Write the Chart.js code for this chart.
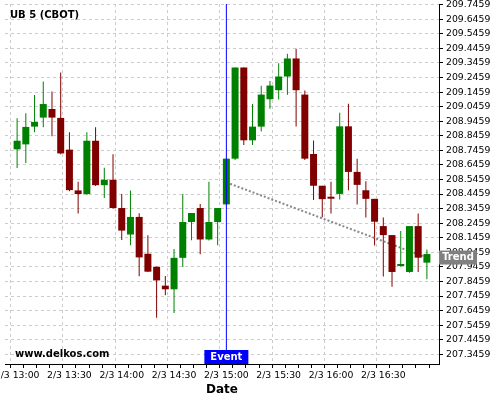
<!DOCTYPE html>
<html lang="en">
<head>
    <meta charset="UTF-8">
    <title>UB 5 (CBOT)</title>
    <script src="https://cdn.jsdelivr.net/npm/chart.js"></script>
    <style>
        html, body {
            margin: 0;
            padding: 0;
            background: #fff;
        }

        .wrap {
            width: 500px;
            height: 400px;
            position: relative;
        }
    </style>
</head>
<body>
    <div class="wrap"><canvas id="chart"></canvas></div>

    <script>
        // 5 minute candles on 2/3, 13:00 to 16:55
        const times = [
            '13:00', '13:05', '13:10', '13:15', '13:20', '13:25', '13:30', '13:35', '13:40', '13:45', '13:50', '13:55',
            '14:00', '14:05', '14:10', '14:15', '14:20', '14:25', '14:30', '14:35', '14:40', '14:45', '14:50', '14:55',
            '15:00', '15:05', '15:10', '15:15', '15:20', '15:25', '15:30', '15:35', '15:40', '15:45', '15:50', '15:55',
            '16:00', '16:05', '16:10', '16:15', '16:20', '16:25', '16:30', '16:35', '16:40', '16:45', '16:50', '16:55'
        ];
        const open = [
            208.753, 208.787, 208.909, 208.971, 209.030, 208.969, 208.751, 208.471, 208.446, 208.812, 208.507, 208.544,
            208.350, 208.168, 208.289, 208.036, 207.947, 207.817, 207.792, 208.008, 208.254, 208.350, 208.134, 208.254,
            208.375, 208.689, 209.315, 208.815, 208.909, 209.097, 209.159, 209.253, 209.377, 209.129, 208.721, 208.503,
            208.415, 208.447, 208.911, 208.598, 208.472, 208.413, 208.226, 208.164, 207.952, 207.911, 208.226, 207.975
        ];
        const high = [
            208.966, 209.000, 209.126, 209.219, 209.150, 209.280, 208.871, 208.530, 208.871, 208.905, 208.626, 208.719,
            208.446, 208.471, 208.314, 208.163, 207.947, 207.883, 208.068, 208.446, 208.316, 208.377, 208.530, 208.350,
            208.689, 209.315, 209.315, 209.065, 209.189, 209.223, 209.345, 209.409, 209.444, 209.157, 208.813, 208.503,
            208.530, 209.004, 209.066, 208.689, 208.534, 208.413, 208.285, 208.164, 208.192, 208.226, 208.313, 208.066
        ];
        const low = [
            208.625, 208.659, 208.871, 208.905, 208.843, 208.719, 208.466, 208.312, 208.439, 208.501, 208.419, 208.345,
            208.131, 208.095, 207.881, 207.910, 207.596, 207.751, 207.630, 207.945, 208.129, 208.033, 208.127, 208.095,
            208.372, 208.680, 208.783, 208.783, 208.875, 209.031, 209.095, 209.127, 208.909, 208.680, 208.405, 208.287,
            208.313, 208.409, 208.472, 208.374, 208.285, 208.093, 207.879, 207.810, 207.946, 207.905, 207.911, 207.861
        ];
        const close = [
            208.812, 208.907, 208.941, 209.064, 208.971, 208.725, 208.473, 208.446, 208.812, 208.507, 208.544, 208.350,
            208.195, 208.289, 208.011, 207.913, 207.853, 207.792, 208.008, 208.254, 208.316, 208.134, 208.254, 208.350,
            208.689, 209.315, 208.815, 208.909, 209.129, 209.191, 209.253, 209.377, 209.159, 208.689, 208.503, 208.411,
            208.414, 208.911, 208.598, 208.509, 208.413, 208.256, 208.164, 207.911, 207.953, 208.226, 208.009, 208.034
        ];

        // axis ticks
        const xLabels = ['2/3 13:00', '2/3 13:30', '2/3 14:00', '2/3 14:30', '2/3 15:00', '2/3 15:30', '2/3 16:00', '2/3 16:30'];
        const yTicks = [
            207.3459, 207.4459, 207.5459, 207.6459, 207.7459, 207.8459, 207.9459, 208.0459, 208.1459,
            208.2459, 208.3459, 208.4459, 208.5459, 208.6459, 208.7459, 208.8459, 208.9459, 209.0459,
            209.1459, 209.2459, 209.3459, 209.4459, 209.5459, 209.6459, 209.7459
        ];

        // event at 15:00 and trend line
        const eventTime = '15:00';
        const trendTimes = ['15:00', '16:55'];
        const trendValues = [208.526, 208.010];

        const yMin = 207.279;
        const yMax = 209.751;
        const xMin = -0.611;
        const xMax = 47.611;

        const eventIdx = times.indexOf(eventTime);
        const colors = open.map((o, i) => close[i] >= o ? '#008000' : '#800000');
        const wicks = times.map((t, i) => ({ x: i, y: [low[i], high[i]] }));
        const bodies = times.map((t, i) => ({ x: i, y: [open[i], close[i]] }));
        const trend = trendTimes.map((t, i) => ({ x: times.indexOf(t), y: trendValues[i] }));

        Chart.defaults.font.family = '"DejaVu Sans"';
        Chart.defaults.color = '#000';

        // title, watermark and the two labels
        const overlay = {
            id: 'overlay',
            afterDraw(chart) {
                const { ctx, chartArea, scales } = chart;
                ctx.save();
                ctx.font = 'bold 10px "DejaVu Sans"';
                ctx.textBaseline = 'middle';
                ctx.textAlign = 'left';
                ctx.fillStyle = '#000';
                ctx.fillText('UB 5 (CBOT)', 10, 15);
                ctx.fillText('www.delkos.com', 15, chartArea.bottom - 10);

                const ex = scales.x.getPixelForValue(eventIdx);
                ctx.fillStyle = '#0000ff';
                ctx.fillRect(ex - 22, chartArea.bottom - 14, 44, 14);
                ctx.fillStyle = '#fff';
                ctx.textAlign = 'center';
                ctx.fillText('Event', ex, chartArea.bottom - 7);

                const ty = scales.y.getPixelForValue(trendValues[1]);
                ctx.fillStyle = '#808080';
                ctx.fillRect(chartArea.right, ty - 7, 38, 14);
                ctx.fillStyle = '#fff';
                ctx.fillText('Trend', chartArea.right + 19, ty);
                ctx.restore();
            }
        };

        new Chart(document.getElementById('chart'), {
            type: 'bar',
            data: {
                datasets: [
                    {
                        type: 'line',
                        data: [{ x: eventIdx, y: yMin }, { x: eventIdx, y: yMax }],
                        borderColor: '#0000ff',
                        borderWidth: 1,
                        pointRadius: 0,
                        order: 0
                    },
                    {
                        data: bodies,
                        backgroundColor: colors,
                        barThickness: 7,
                        grouped: false,
                        minBarLength: 2,
                        inflateAmount: 0,
                        order: 2
                    },
                    {
                        type: 'line',
                        data: trend,
                        borderColor: '#888888',
                        borderWidth: 2,
                        borderDash: [2, 2],
                        pointRadius: 0,
                        order: 3
                    },
                    {
                        data: wicks,
                        backgroundColor: colors,
                        barThickness: 1,
                        grouped: false,
                        inflateAmount: 0,
                        order: 4
                    }
                ]
            },
            options: {
                responsive: true,
                maintainAspectRatio: false,
                animation: false,
                layout: { padding: { top: 4, left: 5, right: 0, bottom: 0 } },
                plugins: {
                    legend: { display: false },
                    tooltip: { enabled: false }
                },
                scales: {
                    x: {
                        type: 'linear',
                        min: xMin,
                        max: xMax,
                        afterBuildTicks: (s) => {
                            const t = [];
                            for (let i = 0; i * 1.5 <= xMax; i++) t.push({ value: i * 1.5 });
                            s.ticks = t;
                        },
                        afterFit: (s) => {
                            s.height = 36;
                            s.paddingLeft = 0;
                            s.paddingRight = 0;
                        },
                        grid: {
                            color: (c) => (c.tick && c.tick.value % 6 === 0) ? '#cccccc' : 'rgba(0,0,0,0)',
                            tickColor: '#000',
                            tickLength: 4,
                            tickBorderDash: []
                        },
                        border: { color: '#000', dash: [3, 3] },
                        ticks: {
                            autoSkip: false,
                            maxRotation: 0,
                            padding: 2,
                            font: { size: 9.3 },
                            callback: (v) => v % 6 === 0 ? xLabels[v / 6] : ''
                        },
                        title: {
                            display: true,
                            text: 'Date',
                            font: { size: 12, weight: 'bold' },
                            padding: { top: 0, bottom: 3 }
                        }
                    },
                    y: {
                        position: 'right',
                        min: yMin,
                        max: yMax,
                        afterBuildTicks: (s) => {
                            s.ticks = yTicks.map(v => ({ value: v }));
                        },
                        afterFit: (s) => {
                            s.width = 61;
                            s.paddingTop = 0;
                            s.paddingBottom = 0;
                        },
                        grid: {
                            color: '#cccccc',
                            tickColor: '#000',
                            tickLength: 4,
                            tickBorderDash: []
                        },
                        border: { color: '#000', dash: [3, 3] },
                        ticks: {
                            padding: 3,
                            font: { size: 9.3 },
                            callback: (v) => v.toFixed(4)
                        }
                    }
                }
            },
            plugins: [overlay]
        });
    </script>
</body>
</html>
